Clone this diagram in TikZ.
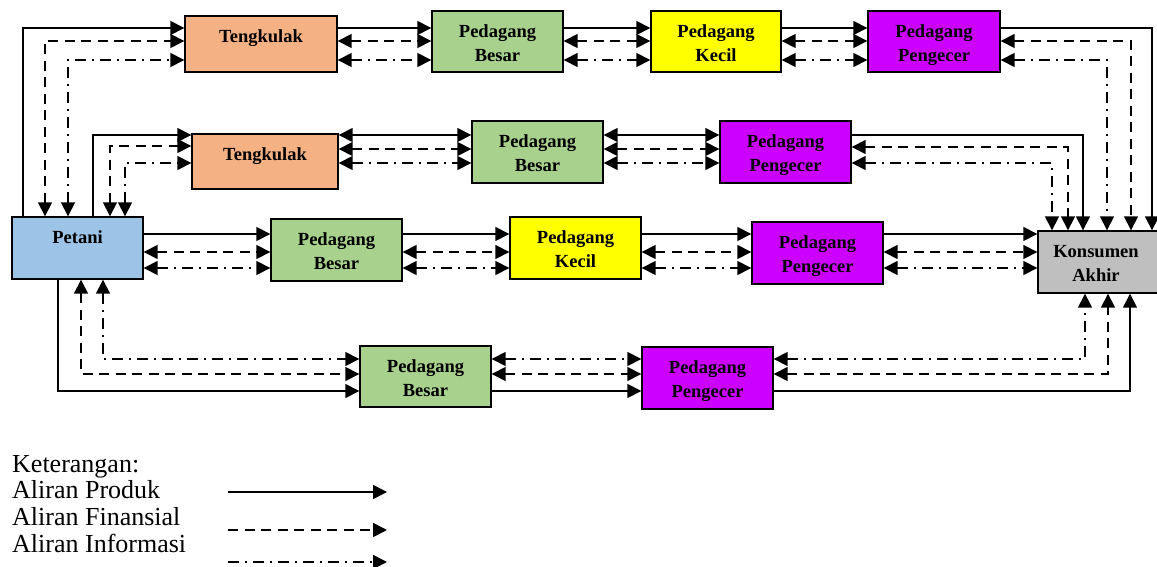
\documentclass[tikz,border=0pt]{standalone}
\usepackage{fontspec}
\setmainfont{Liberation Serif}
\usetikzlibrary{arrows.meta}
\definecolor{ctk}{HTML}{F4B183}
\definecolor{cpb}{HTML}{A9D18E}
\definecolor{cpk}{HTML}{FFFF00}
\definecolor{cpp}{HTML}{CC00FF}
\definecolor{cpt}{HTML}{9DC3E6}
\definecolor{cka}{HTML}{BFBFBF}
\newcommand{\twoline}[2]{\begin{tabular}[t]{@{}c@{}}#1\\#2\end{tabular}}
\begin{document}
\begin{tikzpicture}[x=1pt,y=-1pt,
  box/.style={draw=black, line width=1.4pt, inner sep=0pt, minimum width=131pt, minimum height=62pt},
  lbl/.style={inner sep=0pt, anchor=base, font=\fontsize{18.5}{24.5}\selectfont\bfseries},
  legtext/.style={inner sep=0pt, anchor=base west, font=\fontsize{26}{26}\selectfont},
  >={Triangle[length=14pt,width=14pt]},
  prod/.style={line width=1.6pt},
  fin/.style={line width=1.6pt, dash pattern=on 10pt off 6.5pt},
  inf/.style={line width=1.6pt, dash pattern=on 11pt off 6pt on 2pt off 6pt}
]
\useasboundingbox (0,0) rectangle (1157,567);

% boxes
\node[box, fill=ctk, minimum width=152pt, minimum height=56pt] (t1) at (261,44) {};
\node[box, fill=cpb, minimum height=61pt] (pb1) at (497.5,41.5) {};
\node[box, fill=cpk, minimum width=130pt, minimum height=61pt] (pk1) at (716,41.5) {};
\node[box, fill=cpp, minimum width=132pt, minimum height=61pt] (pp1) at (934,41.5) {};

\node[box, fill=ctk, minimum width=146pt, minimum height=55pt] (t2) at (265,161.5) {};
\node[box, fill=cpb] (pb2) at (537.5,152) {};
\node[box, fill=cpp] (pp2) at (785.5,152) {};

\node[box, fill=cpt] (pt) at (77.5,248) {};
\node[box, fill=cpb] (pb3) at (336.5,250) {};
\node[box, fill=cpk] (pk3) at (575.5,248) {};
\node[box, fill=cpp] (pp3) at (817.5,253) {};
\node[box, fill=cka, minimum width=122pt] (ka) at (1099,262) {};

\node[box, fill=cpb, minimum height=61pt] (pb4) at (425.5,376.5) {};
\node[box, fill=cpp] (pp4) at (707.5,378) {};

% labels
\node[lbl] (t1l) at ([yshift=-27pt]t1.north) {Tengkulak};
\node[lbl] (pb1l) at ([yshift=-27pt]pb1.north) {\twoline{Pedagang}{Besar}};
\node[lbl] (pk1l) at ([yshift=-27pt]pk1.north) {\twoline{Pedagang}{Kecil}};
\node[lbl] (pp1l) at ([yshift=-27pt]pp1.north) {\twoline{Pedagang}{Pengecer}};
\node[lbl] (t2l) at ([yshift=-27pt]t2.north) {Tengkulak};
\node[lbl] (pb2l) at ([yshift=-27pt]pb2.north) {\twoline{Pedagang}{Besar}};
\node[lbl] (pp2l) at ([yshift=-27pt]pp2.north) {\twoline{Pedagang}{Pengecer}};
\node[lbl] (ptl) at ([yshift=-27pt]pt.north) {Petani};
\node[lbl] (pb3l) at ([yshift=-27pt]pb3.north) {\twoline{Pedagang}{Besar}};
\node[lbl] (pk3l) at ([yshift=-27pt]pk3.north) {\twoline{Pedagang}{Kecil}};
\node[lbl] (pp3l) at ([yshift=-27pt]pp3.north) {\twoline{Pedagang}{Pengecer}};
\node[lbl] (kal) at ([yshift=-27pt]ka.north -| 1096,0) {\twoline{Konsumen}{Akhir}};
\node[lbl] (pb4l) at ([yshift=-27pt]pb4.north) {\twoline{Pedagang}{Besar}};
\node[lbl] (pp4l) at ([yshift=-27pt]pp4.north) {\twoline{Pedagang}{Pengecer}};

% row 1
\draw[prod,->] (pt.north -| 23,0) |- (t1.west |- 0,28);
\draw[fin,<->] (pt.north -| 45,0) |- (t1.west |- 0,41);
\draw[inf,<->] (pt.north -| 68,0) |- (t1.west |- 0,60);
\draw[prod,->] (t1.east |- 0,28) -- (pb1.west |- 0,28);
\draw[fin,<->] (t1.east |- 0,41) -- (pb1.west |- 0,41);
\draw[inf,<->] (t1.east |- 0,60) -- (pb1.west |- 0,60);
\draw[prod,->] (pb1.east |- 0,28) -- (pk1.west |- 0,28);
\draw[fin,<->] (pb1.east |- 0,41) -- (pk1.west |- 0,41);
\draw[inf,<->] (pb1.east |- 0,60) -- (pk1.west |- 0,60);
\draw[prod,->] (pk1.east |- 0,28) -- (pp1.west |- 0,28);
\draw[fin,<->] (pk1.east |- 0,41) -- (pp1.west |- 0,41);
\draw[inf,<->] (pk1.east |- 0,60) -- (pp1.west |- 0,60);
\draw[prod,->] (pp1.east |- 0,28) -| (ka.north -| 1152,0);
\draw[fin,<->] (pp1.east |- 0,41) -| (ka.north -| 1131,0);
\draw[inf,<->] (pp1.east |- 0,60) -| (ka.north -| 1107,0);

% row 2
\draw[prod,->] (pt.north -| 93,0) |- (t2.west |- 0,135);
\draw[fin,<->] (pt.north -| 110,0) |- (t2.west |- 0,146);
\draw[inf,<->] (pt.north -| 125,0) |- (t2.west |- 0,163);
\draw[prod,<->] (t2.east |- 0,135) -- (pb2.west |- 0,135);
\draw[fin,<->] (t2.east |- 0,149) -- (pb2.west |- 0,149);
\draw[inf,<->] (t2.east |- 0,163) -- (pb2.west |- 0,163);
\draw[prod,<->] (pb2.east |- 0,135) -- (pp2.west |- 0,135);
\draw[fin,<->] (pb2.east |- 0,149) -- (pp2.west |- 0,149);
\draw[inf,<->] (pb2.east |- 0,163) -- (pp2.west |- 0,163);
\draw[prod,->] (pp2.east |- 0,135) -| (ka.north -| 1083,0);
\draw[fin,<->] (pp2.east |- 0,147) -| (ka.north -| 1068,0);
\draw[inf,<->] (pp2.east |- 0,163) -| (ka.north -| 1052,0);

% row 3
\draw[prod,->] (pt.east |- 0,234) -- (pb3.west |- 0,234);
\draw[fin,<->] (pt.east |- 0,252) -- (pb3.west |- 0,252);
\draw[inf,<->] (pt.east |- 0,268) -- (pb3.west |- 0,268);
\draw[prod,->] (pb3.east |- 0,234) -- (pk3.west |- 0,234);
\draw[fin,<->] (pb3.east |- 0,252) -- (pk3.west |- 0,252);
\draw[inf,<->] (pb3.east |- 0,268) -- (pk3.west |- 0,268);
\draw[prod,->] (pk3.east |- 0,234) -- (pp3.west |- 0,234);
\draw[fin,<->] (pk3.east |- 0,252) -- (pp3.west |- 0,252);
\draw[inf,<->] (pk3.east |- 0,268) -- (pp3.west |- 0,268);
\draw[prod,->] (pp3.east |- 0,234) -- (ka.west |- 0,234);
\draw[fin,<->] (pp3.east |- 0,252) -- (ka.west |- 0,252);
\draw[inf,<->] (pp3.east |- 0,268) -- (ka.west |- 0,268);

% row 4
\draw[prod,->] (pt.south -| 58,0) |- (pb4.west |- 0,391);
\draw[fin,<->] (pt.south -| 81,0) |- (pb4.west |- 0,374);
\draw[inf,<->] (pt.south -| 103,0) |- (pb4.west |- 0,359);
\draw[inf,<->] (pb4.east |- 0,359) -- (pp4.west |- 0,359);
\draw[fin,<->] (pb4.east |- 0,374) -- (pp4.west |- 0,374);
\draw[prod,->] (pb4.east |- 0,391) -- (pp4.west |- 0,391);
\draw[inf,<->] (pp4.east |- 0,359) -| (ka.south -| 1085,0);
\draw[fin,<->] (pp4.east |- 0,374) -| (ka.south -| 1108,0);
\draw[prod,->] (pp4.east |- 0,391) -| (ka.south -| 1130,0);

% legend
\node[legtext] (k0) at (12,472) {Keterangan:};
\node[legtext] (k1) at (12,498) {Aliran Produk};
\node[legtext] (k2) at (12,525) {Aliran Finansial};
\node[legtext] (k3) at (12,552) {Aliran Informasi};
\coordinate (l1a) at (228,492); \coordinate (l1b) at (387,492);
\coordinate (l2a) at (228,530); \coordinate (l2b) at (387,530);
\coordinate (l3a) at (228,562); \coordinate (l3b) at (387,562);
\draw[prod,->] (l1a) -- (l1b);
\draw[fin,->] (l2a) -- (l2b);
\draw[inf,->] (l3a) -- (l3b);
\end{tikzpicture}
\end{document}
